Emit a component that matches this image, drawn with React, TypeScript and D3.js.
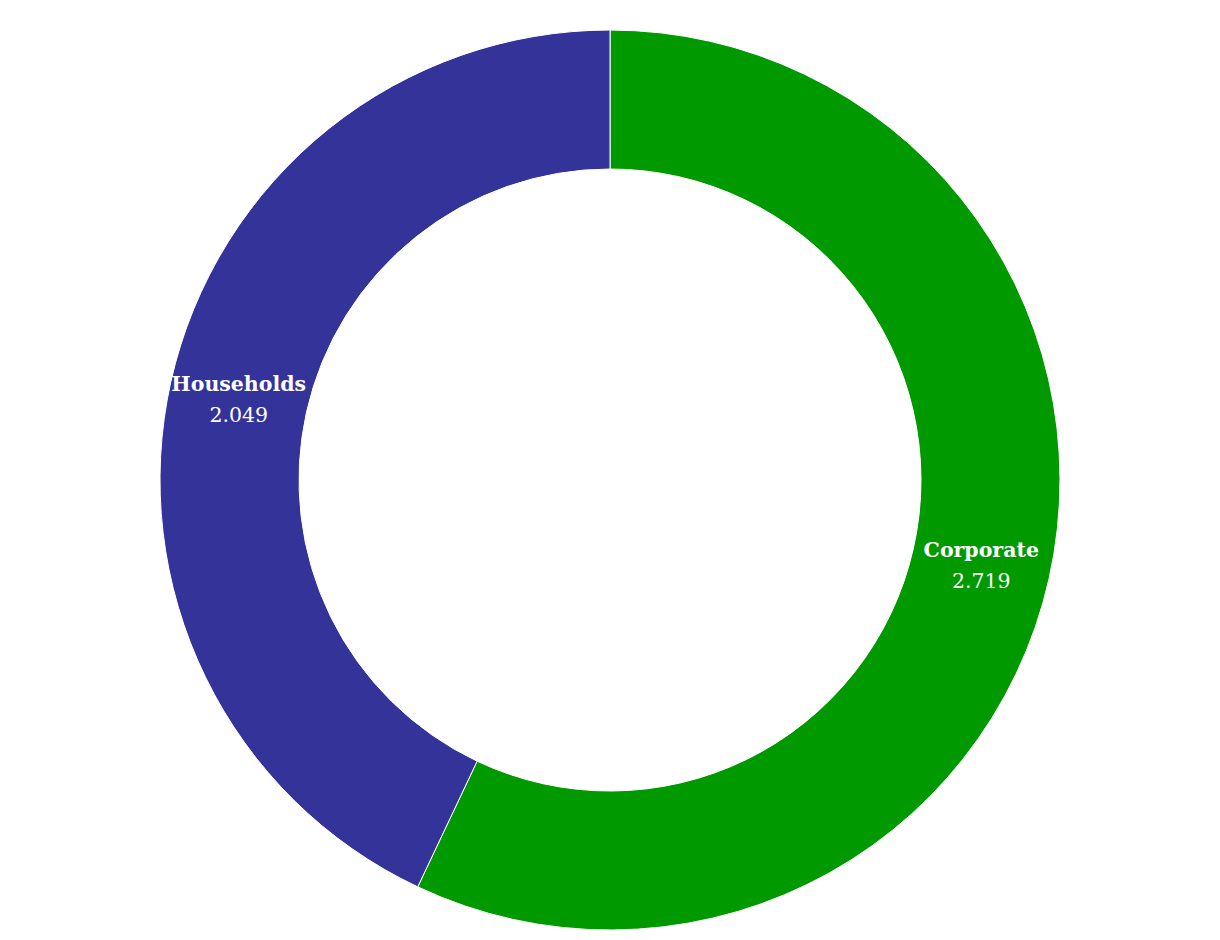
import React from "react";
import * as d3 from "d3";

const categories = ["Corporate", "Households"];
const values = [2.719, 2.049];
const colors = ["#009900", "#333399"];

export default function App() {
  const width = 1220, height = 940;
  const cx = 610, cy = 480;
  const outerR = 450, innerR = 311;
  const data = categories.map((c, i) => ({ name: c, value: values[i], color: colors[i] }));
  const pie = d3.pie<any>().value((d: any) => d.value).sort(null);
  const arcs = pie(data);
  const arc = d3.arc<any>().innerRadius(innerR).outerRadius(outerR);
  return (
    <svg width={width} height={height} style={{ position: "absolute", left: 0, top: 0 }}>
      <g transform={`translate(${cx},${cy})`}>
        {arcs.map((a, i) => (
          <path key={i} d={arc(a) as string} fill={a.data.color} stroke="#ffffff" strokeWidth={1} />
        ))}
        {arcs.map((a, i) => {
          const [x, y] = arc.centroid(a);
          return (
            <text key={"t" + i} x={x} y={y} textAnchor="middle" fill="#ffffff"
              style={{ fontFamily: "'DejaVu Serif', serif" }}>
              <tspan x={x} dy={-6} fontWeight="bold" fontSize={20.5}>{a.data.name}</tspan>
              <tspan x={x} dy={31} fontSize={20.5}>{a.data.value.toFixed(3)}</tspan>
            </text>
          );
        })}
      </g>
    </svg>
  );
}
